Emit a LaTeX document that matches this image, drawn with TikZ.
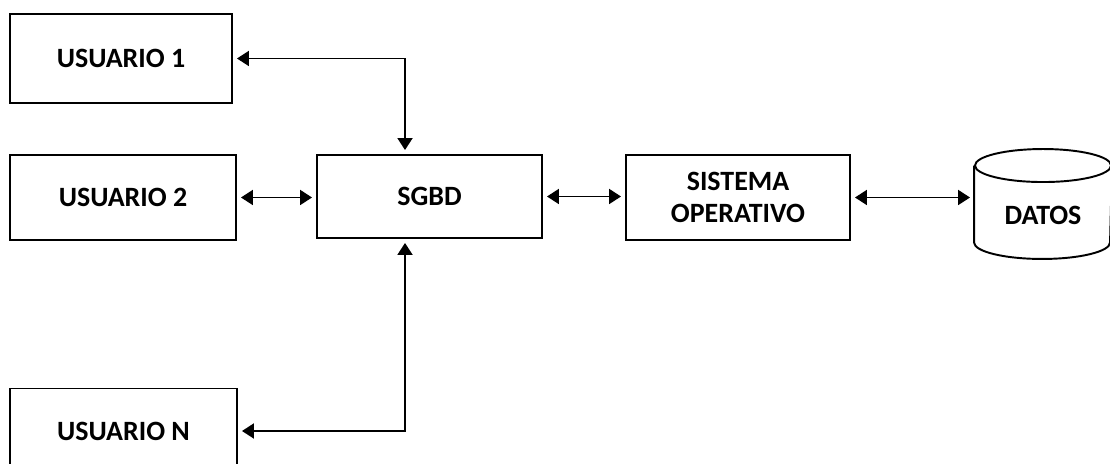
\documentclass[tikz,border=0pt]{standalone}
\usepackage{fontspec}
\setmainfont{Carlito}
\usetikzlibrary{arrows.meta}
\begin{document}
\begin{tikzpicture}[line width=1.1pt,
  caja/.style={draw, rectangle, inner sep=0pt, font=\fontsize{15.9}{18.5}\selectfont\bfseries},
  flecha/.style={{Triangle[length=0.24cm,width=0.3cm]}-{Triangle[length=0.24cm,width=0.3cm]}, shorten <=0.08cm, shorten >=0.08cm}]
\useasboundingbox (0,0) rectangle (22.2,-9.28);
\clip (0,0) rectangle (22.2,-9.28);
\node[caja, minimum width=4.44cm, minimum height=1.78cm] (usr1) at (2.42,-1.17) {USUARIO 1};
\node[caja, minimum width=4.52cm, minimum height=1.70cm] (usr2) at (2.46,-3.95) {USUARIO 2};
\node[caja, minimum width=4.54cm, minimum height=1.70cm] (usrN) at (2.47,-8.62) {USUARIO N};
\node[caja, minimum width=4.50cm, minimum height=1.66cm] (sgbd) at (8.59,-3.93) {SGBD};
\node[caja, minimum width=4.48cm, minimum height=1.70cm, align=center] (so) at (14.76,-3.95) {SISTEMA\\OPERATIVO};
% base de datos (cilindro)
\node[rectangle, inner sep=0pt, minimum width=2.72cm, minimum height=2.16cm] (datos) at (20.86,-4.08) {};
\draw ([yshift=-0.33cm]datos.north west) -- ([yshift=0.33cm]datos.south west)
  arc[start angle=180, end angle=360, x radius=1.36cm, y radius=0.33cm]
  -- ([yshift=-0.33cm]datos.north east);
\draw ([yshift=-0.33cm]datos.north) ellipse [x radius=1.36cm, y radius=0.33cm];
\node[font=\fontsize{15.9}{18.5}\selectfont\bfseries] (datostxt) at ([yshift=-0.22cm]datos.center) {DATOS};
% conexiones
\draw[flecha] (usr1.east) -| ([xshift=-0.49cm]sgbd.north);
\draw[flecha] (usr2.east) -- (usr2.east -| sgbd.west);
\draw[flecha] (usrN.east) -| ([xshift=-0.49cm]sgbd.south);
\draw[flecha] (sgbd.east) -- (sgbd.east -| so.west);
\draw[flecha] (so.east) -- (so.east -| datos.west);
\end{tikzpicture}
\end{document}
